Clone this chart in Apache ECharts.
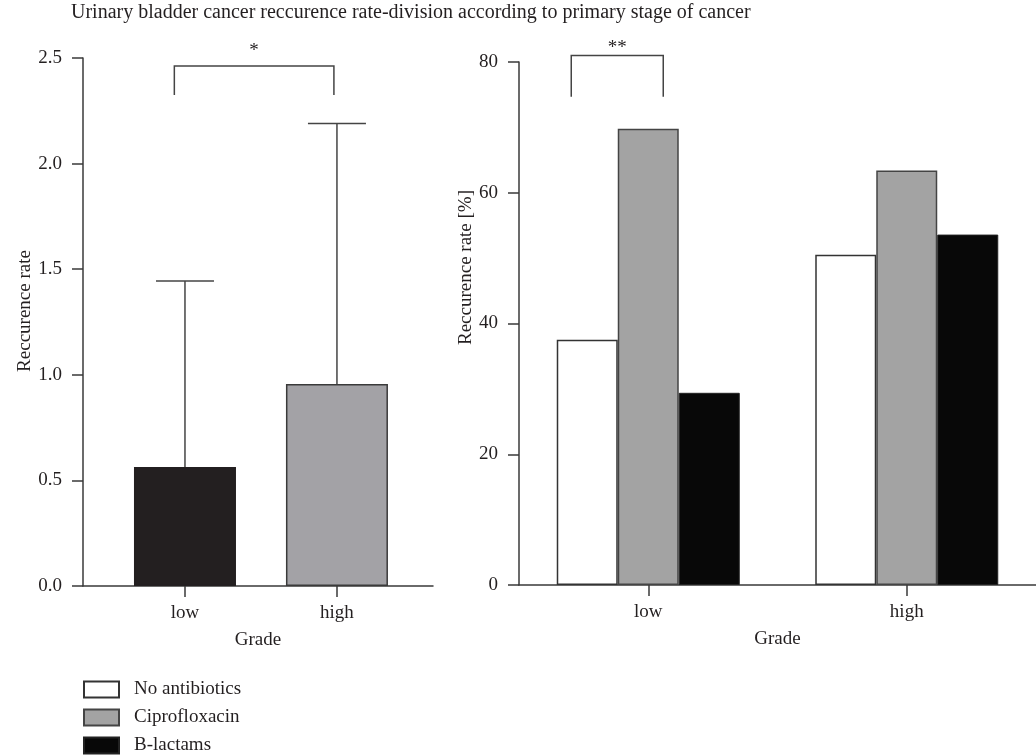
<!DOCTYPE html>
<html>
<head>
<meta charset="utf-8">
<title>Urinary bladder cancer reccurence rate</title>
<script src="https://cdn.jsdelivr.net/npm/echarts@6/dist/echarts.min.js"></script>
<style>
  html, body { margin: 0; padding: 0; background: #fff; }
  #chart { width: 1036px; height: 756px; }
</style>
</head>
<body>
<div id="chart"></div>
<script>
// left panel: recurrence rate (mean + upper error) by grade
const gradeCats = ['low', 'high']
const rateMean = [0.563, 0.956]
const rateUpper = [1.444, 2.19]
const rateColors = ['#231f20', '#a3a2a6']
const rateTicks = [0, 0.5, 1.0, 1.5, 2.0, 2.5]

// right panel: recurrence rate [%] by antibiotic and grade
const drugNames = ['No antibiotics', 'Ciprofloxacin', 'B-lactams']
const noAntibiotics = [37.5, 50.5]
const ciprofloxacin = [69.8, 63.4]
const bLactams = [29.4, 53.6]
const drugColors = ['#ffffff', '#a3a3a3', '#080808']
const pctTicks = [0, 20, 40, 60, 80]

const FONT = 'Liberation Serif'
const FS = 19
const INK = '#231f20'
const AXIS = '#3a3a3a'

const chart = echarts.init(document.getElementById('chart'))

// 左图的 x 轴用数值轴，0 / 1 对应两个分级
const axisCommon = {
    axisLine: { show: true, onZero: false, lineStyle: { color: AXIS, width: 1.5 } },
    axisTick: { show: true, length: 11, lineStyle: { color: AXIS, width: 1.5 } },
    splitLine: { show: false },
    nameTextStyle: { fontFamily: FONT, fontSize: FS, color: INK },
    axisLabel: { fontFamily: FONT, fontSize: FS, color: INK }
}

const option = {
    animation: false,
    backgroundColor: '#fff',
    textStyle: { fontFamily: FONT },
    title: {
        text: 'Urinary bladder cancer reccurence rate-division according to primary stage of cancer',
        left: 71,
        top: 3,
        padding: 0,
        textStyle: { fontFamily: FONT, fontSize: 20, fontWeight: 'normal', color: INK }
    },
    legend: {
        data: drugNames,
        orient: 'vertical',
        left: 83,
        top: 680,
        height: 100,
        padding: 0,
        icon: 'rect',
        itemWidth: 35,
        itemHeight: 16,
        itemGap: 9,
        textStyle: { fontFamily: FONT, fontSize: FS, color: INK, lineHeight: 19, padding: [0, 0, 0, 10] }
    },
    grid: [
        { left: 83, top: 58, width: 350, height: 528 },
        { left: 519, top: 62, width: 520, height: 523 }
    ],
    xAxis: [
        Object.assign({}, axisCommon, {
            type: 'value',
            gridIndex: 0,
            min: -0.671,
            max: 1.632,
            name: 'Grade',
            nameLocation: 'middle',
            nameGap: 45,
            axisTick: Object.assign({}, axisCommon.axisTick, { customValues: [0, 1] }),
            axisLabel: Object.assign({}, axisCommon.axisLabel, {
                customValues: [0, 1],
                margin: 18,
                formatter: v => gradeCats[Math.round(v)]
            })
        }),
        Object.assign({}, axisCommon, {
            type: 'category',
            gridIndex: 1,
            data: gradeCats,
            name: 'Grade',
            nameLocation: 'middle',
            nameGap: 45,
            axisTick: Object.assign({}, axisCommon.axisTick, { alignWithLabel: true }),
            axisLabel: Object.assign({}, axisCommon.axisLabel, { margin: 18 })
        })
    ],
    yAxis: [
        Object.assign({}, axisCommon, {
            type: 'value',
            gridIndex: 0,
            min: 0,
            max: 2.5,
            interval: 0.5,
            name: 'Reccurence rate',
            nameLocation: 'middle',
            nameGap: 48,
            nameTextStyle: Object.assign({}, axisCommon.nameTextStyle, { padding: [0, 0, 0, 22] }),
            axisLabel: Object.assign({}, axisCommon.axisLabel, {
                margin: 21,
                formatter: v => v.toFixed(1)
            })
        }),
        Object.assign({}, axisCommon, {
            type: 'value',
            gridIndex: 1,
            min: 0,
            max: 80,
            interval: 20,
            name: 'Reccurence rate [%]',
            nameLocation: 'middle',
            nameGap: 43,
            nameTextStyle: Object.assign({}, axisCommon.nameTextStyle, { padding: [0, 0, 0, 112] }),
            axisLabel: Object.assign({}, axisCommon.axisLabel, { margin: 21 })
        })
    ],
    series: [
        {
            type: 'bar',
            xAxisIndex: 0,
            yAxisIndex: 0,
            barWidth: 102,
            data: rateMean.map((v, i) => ({
                value: [i, v],
                itemStyle: {
                    color: rateColors[i],
                    borderColor: i === 0 ? '#231f20' : '#3a3a3a',
                    borderWidth: 1.5
                }
            }))
        },
        {
            // 误差线，只画上半部分
            type: 'custom',
            xAxisIndex: 0,
            yAxisIndex: 0,
            data: rateMean.map((v, i) => [i, v, rateUpper[i]]),
            renderItem: function (params, api) {
                const base = api.coord([api.value(0), api.value(1)])
                const top = api.coord([api.value(0), api.value(2)])
                const style = { stroke: '#444', lineWidth: 1.5 }
                return {
                    type: 'group',
                    children: [
                        { type: 'line', shape: { x1: base[0], y1: base[1], x2: top[0], y2: top[1] }, style },
                        { type: 'line', shape: { x1: top[0] - 29, y1: top[1], x2: top[0] + 29, y2: top[1] }, style }
                    ]
                }
            },
            z: 3
        },
        {
            name: drugNames[0],
            type: 'bar',
            xAxisIndex: 1,
            yAxisIndex: 1,
            barWidth: 61,
            barGap: '0%',
            data: noAntibiotics,
            itemStyle: { color: drugColors[0], borderColor: '#333', borderWidth: 1.5 }
        },
        {
            name: drugNames[1],
            type: 'bar',
            xAxisIndex: 1,
            yAxisIndex: 1,
            barWidth: 61,
            barGap: '0%',
            data: ciprofloxacin,
            itemStyle: { color: drugColors[1], borderColor: '#444', borderWidth: 1.5 }
        },
        {
            name: drugNames[2],
            type: 'bar',
            xAxisIndex: 1,
            yAxisIndex: 1,
            barWidth: 61,
            barGap: '0%',
            data: bLactams,
            itemStyle: { color: drugColors[2], borderColor: '#222', borderWidth: 1 }
        }
    ]
}
chart.setOption(option)

// 显著性标记（括号 + 星号），位置换算自坐标轴
function bracket(p1, p2, legY, label, lift) {
    const style = { stroke: '#444', lineWidth: 1.5, fill: null }
    return [
        {
            type: 'polyline',
            shape: { points: [[p1[0], legY], [p1[0], p1[1]], [p2[0], p2[1]], [p2[0], legY]] },
            style
        },
        {
            type: 'text',
            x: (p1[0] + p2[0]) / 2,
            y: p1[1] - lift,
            style: { text: label, fontFamily: FONT, fontSize: FS, fill: INK, align: 'center', verticalAlign: 'bottom' }
        }
    ]
}

const lA = chart.convertToPixel({ gridIndex: 0 }, [-0.07, 2.462])
const lB = chart.convertToPixel({ gridIndex: 0 }, [0.98, 2.462])
const lLeg = chart.convertToPixel({ gridIndex: 0 }, [0, 2.325])[1]
const rc = chart.convertToPixel({ gridIndex: 1 }, ['low', 81])
const rLeg = chart.convertToPixel({ gridIndex: 1 }, ['low', 74.7])[1]

chart.setOption({
    graphic: [].concat(
        bracket(lA, lB, lLeg, '*', 6),
        bracket([rc[0] - 77, rc[1]], [rc[0] + 15, rc[1]], rLeg, '**', -2)
    )
})
</script>
</body>
</html>
